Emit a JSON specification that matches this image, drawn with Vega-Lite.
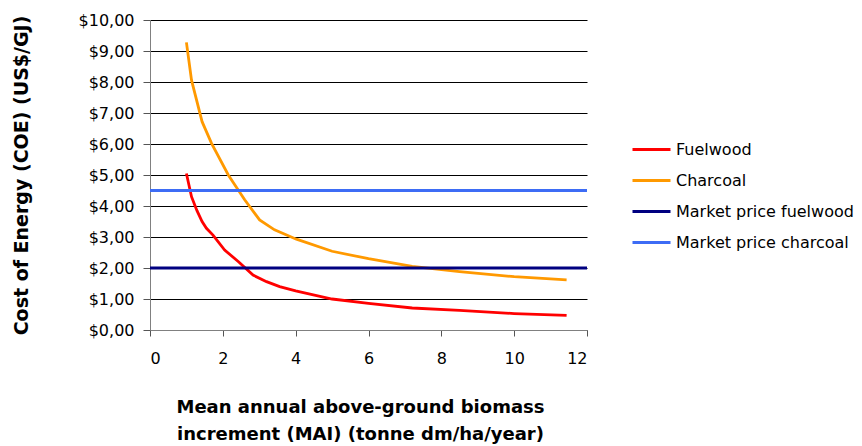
{
  "$schema": "https://vega.github.io/schema/vega-lite/v6.json",
  "width": 437,
  "height": 310,
  "autosize": "none",
  "padding": {"left": 150, "top": 20, "right": 275, "bottom": 116},
  "background": "white",
  "config": {
    "view": {"stroke": null},
    "font": "DejaVu Sans"
  },
  "data": {
    "values": [
      {"series": "Fuelwood", "mai": 1.0, "cost": 5.05},
      {"series": "Fuelwood", "mai": 1.14, "cost": 4.3},
      {"series": "Fuelwood", "mai": 1.29, "cost": 3.85},
      {"series": "Fuelwood", "mai": 1.43, "cost": 3.5},
      {"series": "Fuelwood", "mai": 1.55, "cost": 3.28},
      {"series": "Fuelwood", "mai": 1.73, "cost": 3.06},
      {"series": "Fuelwood", "mai": 2.05, "cost": 2.58},
      {"series": "Fuelwood", "mai": 2.43, "cost": 2.2},
      {"series": "Fuelwood", "mai": 2.83, "cost": 1.77},
      {"series": "Fuelwood", "mai": 3.2, "cost": 1.56},
      {"series": "Fuelwood", "mai": 3.56, "cost": 1.4},
      {"series": "Fuelwood", "mai": 4.0, "cost": 1.26},
      {"series": "Fuelwood", "mai": 5.0, "cost": 1.0},
      {"series": "Fuelwood", "mai": 6.0, "cost": 0.86},
      {"series": "Fuelwood", "mai": 7.2, "cost": 0.71},
      {"series": "Fuelwood", "mai": 8.5, "cost": 0.63},
      {"series": "Fuelwood", "mai": 10.0, "cost": 0.53},
      {"series": "Fuelwood", "mai": 11.44, "cost": 0.47},
      {"series": "Charcoal", "mai": 1.0, "cost": 9.28},
      {"series": "Charcoal", "mai": 1.14, "cost": 8.06},
      {"series": "Charcoal", "mai": 1.43, "cost": 6.72},
      {"series": "Charcoal", "mai": 1.69, "cost": 6.02},
      {"series": "Charcoal", "mai": 2.15, "cost": 5.0},
      {"series": "Charcoal", "mai": 2.6, "cost": 4.2},
      {"series": "Charcoal", "mai": 3.01, "cost": 3.55},
      {"series": "Charcoal", "mai": 3.42, "cost": 3.23},
      {"series": "Charcoal", "mai": 4.02, "cost": 2.93},
      {"series": "Charcoal", "mai": 5.0, "cost": 2.54},
      {"series": "Charcoal", "mai": 6.0, "cost": 2.3},
      {"series": "Charcoal", "mai": 7.2, "cost": 2.05},
      {"series": "Charcoal", "mai": 8.5, "cost": 1.88},
      {"series": "Charcoal", "mai": 10.0, "cost": 1.72},
      {"series": "Charcoal", "mai": 11.44, "cost": 1.62},
      {"series": "Market price fuelwood", "mai": 0, "cost": 2.0},
      {"series": "Market price fuelwood", "mai": 12, "cost": 2.0},
      {"series": "Market price charcoal", "mai": 0, "cost": 4.5},
      {"series": "Market price charcoal", "mai": 12, "cost": 4.5}
    ]
  },
  "mark": {"type": "line", "strokeWidth": 2.8, "clip": false},
  "encoding": {
    "x": {
      "field": "mai",
      "type": "quantitative",
      "scale": {"domain": [0, 12], "nice": false},
      "axis": {
        "values": [0, 2, 4, 6, 8, 10, 12],
        "grid": false,
        "domainColor": "#808080",
        "tickColor": "#555555",
        "tickSize": 6,
        "labelFont": "DejaVu Sans",
        "labelFontSize": 16,
        "labelColor": "#000000",
        "labelPadding": 14,
        "title": ["Mean annual above-ground biomass", "increment (MAI) (tonne dm/ha/year)"],
        "titleFont": "DejaVu Sans",
        "titleFontSize": 18,
        "titleFontWeight": "bold",
        "titleColor": "#000000",
        "titleLineHeight": 27,
        "titleX": 210,
        "titleY": 82,
        "titleAlign": "center",
        "titleBaseline": "alphabetic"
      }
    },
    "y": {
      "field": "cost",
      "type": "quantitative",
      "scale": {"domain": [0, 10], "nice": false},
      "axis": {
        "values": [0, 1, 2, 3, 4, 5, 6, 7, 8, 9, 10],
        "labelExpr": "'$' + replace(format(datum.value, '.2f'), '.', ',')",
        "grid": true,
        "gridColor": "#000000",
        "gridWidth": 1,
        "domainColor": "#808080",
        "tickColor": "#555555",
        "tickSize": 7,
        "labelFont": "DejaVu Sans",
        "labelFontSize": 16,
        "labelColor": "#000000",
        "labelPadding": 9,
        "title": "Cost of Energy (COE) (US$/GJ)",
        "titleFont": "DejaVu Sans",
        "titleFontSize": 19,
        "titleFontWeight": "bold",
        "titleColor": "#000000",
        "titleX": -123,
        "titleY": 155,
        "titleAngle": 270,
        "titleAlign": "center",
        "titleBaseline": "alphabetic"
      }
    },
    "color": {
      "field": "series",
      "type": "nominal",
      "scale": {
        "domain": ["Fuelwood", "Charcoal", "Market price fuelwood", "Market price charcoal"],
        "range": ["#ff0000", "#ff9900", "#000080", "#3d6cf5"]
      },
      "legend": {
        "title": null,
        "orient": "none",
        "legendX": 481,
        "legendY": 109,
        "symbolType": "stroke",
        "symbolSize": 1444,
        "symbolStrokeWidth": 2.8,
        "labelFont": "DejaVu Sans",
        "labelFontSize": 16,
        "labelColor": "#000000",
        "labelOffset": 4,
        "labelLimit": 300,
        "rowPadding": 2
      }
    }
  }
}
